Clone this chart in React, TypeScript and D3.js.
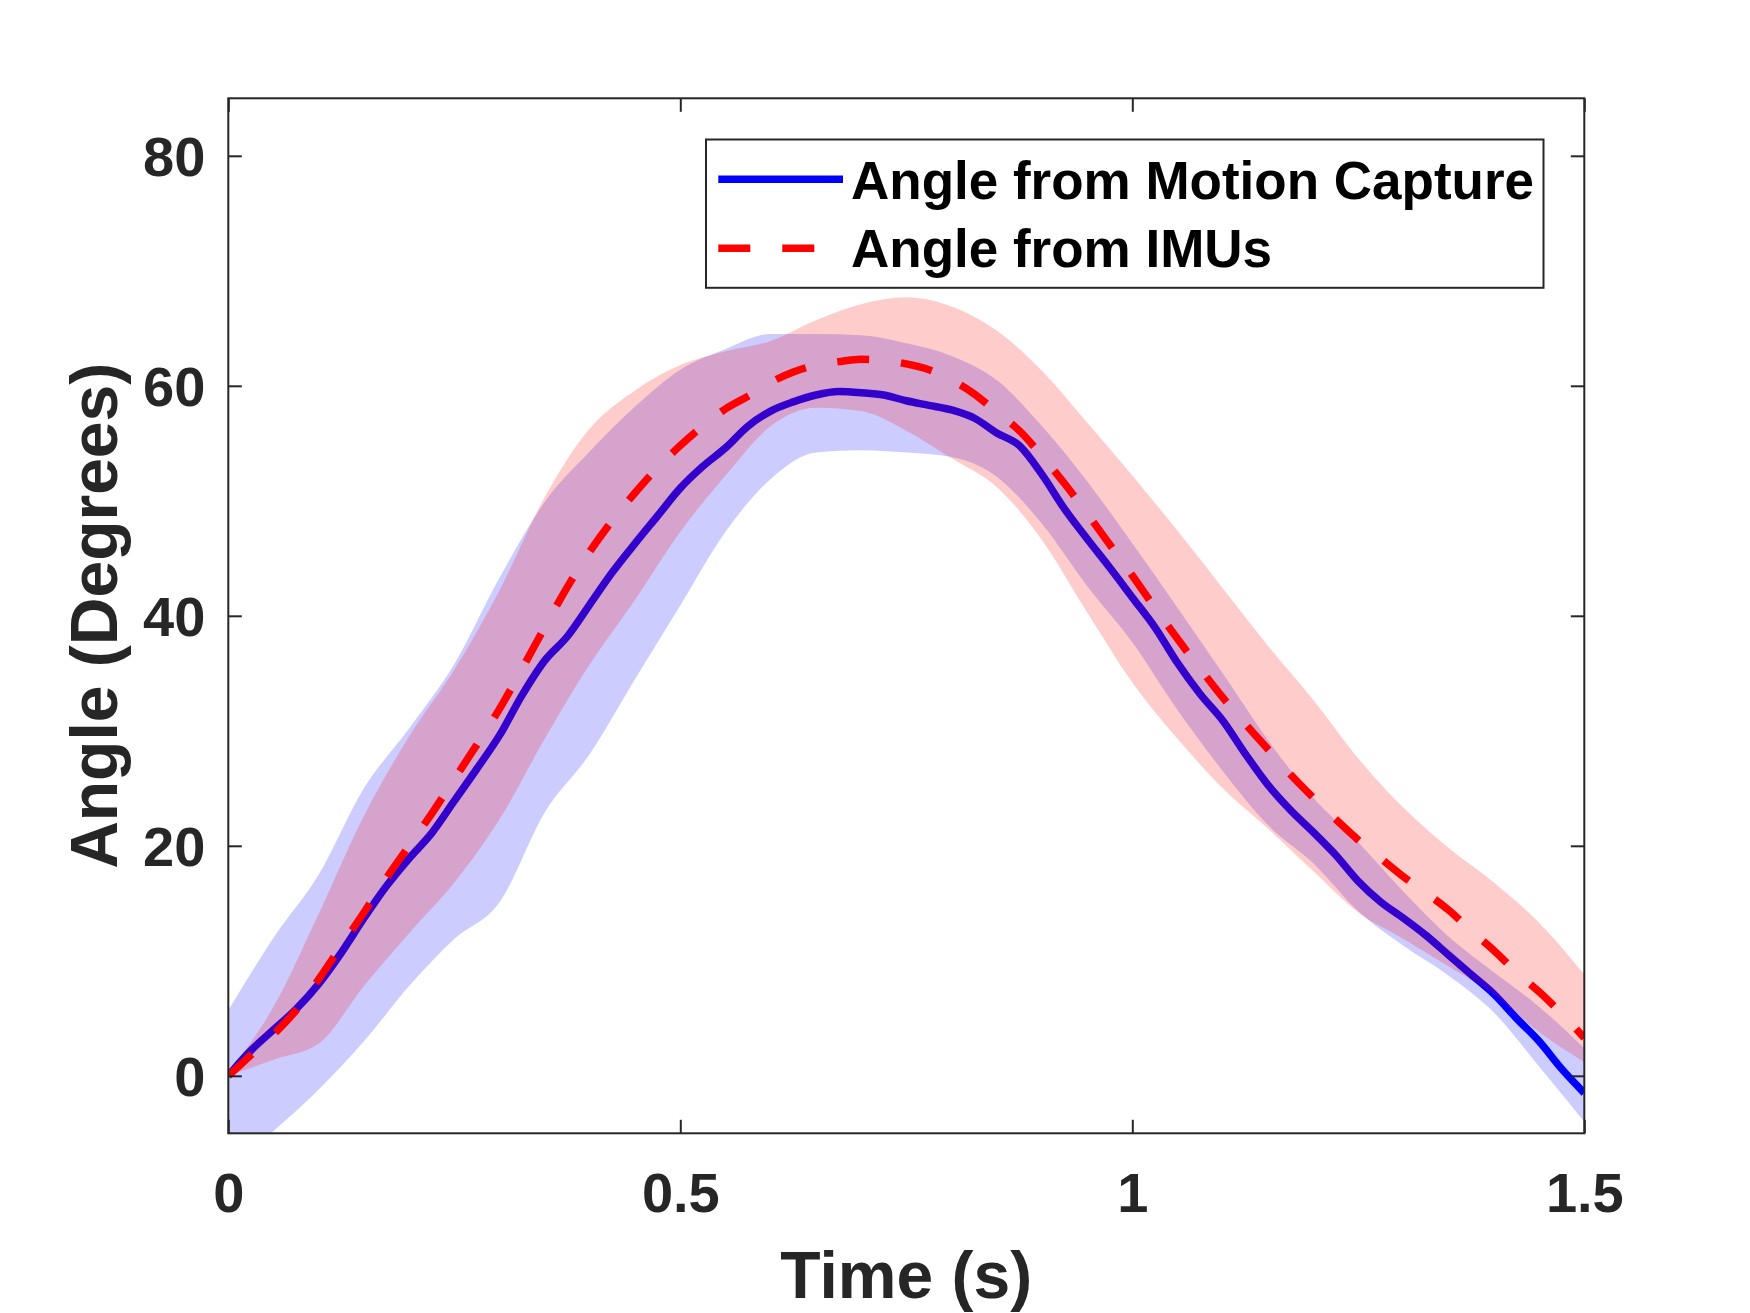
import React, { useRef, useEffect } from "react";
import * as d3 from "d3";

// sample times (s) for the two mean curves
const lineTime = [
  0, 0.025, 0.05, 0.075, 0.1, 0.125, 0.15, 0.175, 0.2, 0.225, 0.25, 0.275, 0.3,
  0.325, 0.35, 0.375, 0.4, 0.425, 0.45, 0.475, 0.5, 0.525, 0.55, 0.575, 0.6,
  0.625, 0.65, 0.675, 0.7, 0.725, 0.75, 0.775, 0.8, 0.825, 0.85, 0.875, 0.9,
  0.925, 0.95, 0.975, 1, 1.025, 1.05, 1.075, 1.1, 1.125, 1.15, 1.175, 1.2,
  1.225, 1.25, 1.275, 1.3, 1.325, 1.35, 1.375, 1.4, 1.425, 1.45, 1.475, 1.5,
];

const mocapMean = [
  0, 2.2, 4.0, 5.8, 8.0, 10.7, 13.7, 16.5, 18.9, 21.1, 23.9, 26.7, 29.6, 33.1,
  36.1, 38.2, 41.0, 43.8, 46.3, 48.7, 51.1, 53.0, 54.6, 56.5, 57.8, 58.6, 59.2,
  59.5, 59.4, 59.2, 58.7, 58.3, 57.9, 57.2, 55.9, 54.8, 52.3, 49.3, 46.7, 44.2,
  41.6, 39.0, 35.9, 33.2, 30.9, 28.0, 25.3, 23.1, 21.2, 19.2, 16.9, 15.1, 13.7,
  12.2, 10.5, 8.8, 7.1, 5.0, 3.0, 0.6, -1.5,
];

const imuMean = [
  0, 1.8, 3.6, 5.7, 8.4, 11.3, 14.2, 17.2, 20.0, 22.8, 25.8, 28.8, 31.9, 35.4,
  39.0, 42.5, 45.6, 48.3, 50.7, 52.9, 54.8, 56.5, 58.0, 59.1, 60.3, 61.2, 61.8,
  62.1, 62.3, 62.2, 61.9, 61.4, 60.5, 59.3, 57.7, 56.1, 53.9, 51.5, 48.9, 46.2,
  43.5, 40.7, 38.0, 35.4, 32.9, 30.6, 28.4, 26.2, 24.2, 22.3, 20.5, 18.9, 17.3,
  15.9, 14.4, 12.6, 10.9, 9.0, 7.3, 5.4, 3.3,
];

// sample times (s) for the +/- SD bands
const bandTime = [
  0, 0.05, 0.1, 0.15, 0.2, 0.25, 0.3, 0.35, 0.4, 0.45, 0.5, 0.55, 0.6, 0.65,
  0.7, 0.75, 0.8, 0.85, 0.9, 0.95, 1, 1.05, 1.1, 1.15, 1.2, 1.25, 1.3, 1.35,
  1.4, 1.45, 1.5,
];

const mocapUpper = [
  5.7, 12.0, 17.5, 25.0, 30.2, 35.8, 43.3, 49.9, 54.3, 58.2, 61.4, 63.2, 64.5,
  64.5, 64.4, 63.7, 62.6, 60.5, 56.5, 51.7, 46.3, 40.7, 35.0, 29.2, 24.2, 20.3,
  16.0, 12.1, 9.0, 6.0, 2.4,
];
const mocapLower = [
  -8, -4.8, -1.2, 3.0, 7.8, 11.9, 15.1, 22.9, 28.0, 34.5, 40.9, 47.3, 51.9,
  54.2, 54.4, 54.2, 53.8, 52.1, 48.0, 42.6, 37.7, 31.8, 26.5, 21.8, 18.5, 14.3,
  11.3, 8.7, 5.5, 0.8, -4.0,
];
const imuUpper = [
  0.3, 6.0, 14.1, 22.6, 29.5, 35.3, 42.2, 50.3, 56.3, 59.6, 61.8, 63.0, 63.9,
  65.7, 67.1, 67.7, 66.9, 64.8, 61.3, 56.8, 52.2, 47.4, 42.4, 37.4, 32.7, 27.6,
  23.3, 19.8, 16.8, 13.3, 8.8,
];
const imuLower = [
  0, 1.4, 2.8, 7.8, 12.4, 16.8, 22.3, 29.3, 35.8, 41.4, 47.3, 52.2, 56.5, 58.1,
  57.8, 56.1, 53.7, 51.2, 46.6, 40.3, 34.2, 29.3, 25.0, 21.5, 17.8, 14.2, 11.9,
  9.5, 7.1, 3.8, 1.2,
];

const xTicks = [0, 0.5, 1, 1.5];
const yTicks = [0, 20, 40, 60, 80];
const legendLabels = ["Angle from Motion Capture", "Angle from IMUs"];

const FONT = "'Liberation Sans', Arial, Helvetica, sans-serif";
const AXIS_COLOR = "#262626";

const App: React.FC = () => {
  const ref = useRef<SVGSVGElement | null>(null);

  useEffect(() => {
    const svg = d3.select(ref.current);
    svg.selectAll("*").remove();

    const width = 1750;
    const height = 1313;
    const left = 228.3;
    const right = 1584.3;
    const top = 98.3;
    const bottom = 1133.3;

    svg.attr("width", width).attr("height", height);
    svg.append("rect").attr("width", width).attr("height", height).attr("fill", "#fff");

    const x = d3.scaleLinear().domain([0, 1.5]).range([left, right]);
    const y = d3.scaleLinear().domain([-5, 85]).range([bottom, top]);

    svg
      .append("defs")
      .append("clipPath")
      .attr("id", "plot-clip")
      .append("rect")
      .attr("x", left)
      .attr("y", top)
      .attr("width", right - left)
      .attr("height", bottom - top);

    const plot = svg.append("g").attr("clip-path", "url(#plot-clip)");

    const band = (upper: number[], lower: number[]) =>
      d3
        .area<number>()
        .x((_, i) => x(bandTime[i]))
        .y0((_, i) => y(lower[i]))
        .y1((_, i) => y(upper[i]))
        .curve(d3.curveMonotoneX)(bandTime);

    const meanLine = (values: number[]) =>
      d3
        .line<number>()
        .x((_, i) => x(lineTime[i]))
        .y((d) => y(d))
        .curve(d3.curveMonotoneX)(values);

    // motion capture band + mean
    plot
      .append("path")
      .attr("d", band(mocapUpper, mocapLower))
      .attr("fill", "#0000ff")
      .attr("fill-opacity", 0.2);

    plot
      .append("path")
      .attr("d", meanLine(mocapMean))
      .attr("fill", "none")
      .attr("stroke", "#0000ff")
      .attr("stroke-width", 7.5)
      .attr("stroke-linejoin", "round");

    // IMU band + mean
    plot
      .append("path")
      .attr("d", band(imuUpper, imuLower))
      .attr("fill", "#ff0000")
      .attr("fill-opacity", 0.2);

    plot
      .append("path")
      .attr("d", meanLine(imuMean))
      .attr("fill", "none")
      .attr("stroke", "#ff0000")
      .attr("stroke-width", 7.5)
      .attr("stroke-dasharray", "32,32");

    // axes box
    svg
      .append("rect")
      .attr("x", left)
      .attr("y", top)
      .attr("width", right - left)
      .attr("height", bottom - top)
      .attr("fill", "none")
      .attr("stroke", AXIS_COLOR)
      .attr("stroke-width", 2);

    const styleAxis = (g: d3.Selection<SVGGElement, unknown, null, undefined>) => {
      g.select(".domain").remove();
      g.selectAll(".tick line").attr("stroke", AXIS_COLOR).attr("stroke-width", 2);
      g.selectAll(".tick text")
        .attr("fill", AXIS_COLOR)
        .attr("font-family", FONT)
        .attr("font-weight", "bold")
        .attr("font-size", 56);
    };

    svg
      .append("g")
      .attr("transform", `translate(0,${bottom})`)
      .call(
        d3
          .axisBottom(x)
          .tickValues(xTicks)
          .tickSize(-13.5)
          .tickPadding(39)
          .tickFormat((d) => String(d))
      )
      .call(styleAxis);

    svg
      .append("g")
      .attr("transform", `translate(${left},0)`)
      .call(
        d3
          .axisLeft(y)
          .tickValues(yTicks)
          .tickSize(-13.5)
          .tickPadding(23)
          .tickFormat((d) => String(d))
      )
      .call(styleAxis)
      .selectAll(".tick text")
      .attr("dy", "0.36em");

    svg
      .append("g")
      .attr("transform", `translate(0,${top})`)
      .call(d3.axisTop(x).tickValues(xTicks).tickSize(-13.5).tickFormat(() => ""))
      .call(styleAxis);

    svg
      .append("g")
      .attr("transform", `translate(${right},0)`)
      .call(d3.axisRight(y).tickValues(yTicks).tickSize(-13.5).tickFormat(() => ""))
      .call(styleAxis);

    // axis labels
    svg
      .append("text")
      .attr("x", (left + right) / 2)
      .attr("y", 1298)
      .attr("text-anchor", "middle")
      .attr("font-family", FONT)
      .attr("font-weight", "bold")
      .attr("font-size", 66)
      .attr("fill", AXIS_COLOR)
      .text("Time (s)");

    svg
      .append("text")
      .attr("transform", `translate(117,${(top + bottom) / 2}) rotate(-90)`)
      .attr("text-anchor", "middle")
      .attr("font-family", FONT)
      .attr("font-weight", "bold")
      .attr("font-size", 66)
      .attr("fill", AXIS_COLOR)
      .text("Angle (Degrees)");

    // legend
    const legend = svg.append("g");
    legend
      .append("rect")
      .attr("x", 706)
      .attr("y", 139.5)
      .attr("width", 837.5)
      .attr("height", 148.3)
      .attr("fill", "#fff")
      .attr("stroke", AXIS_COLOR)
      .attr("stroke-width", 2);

    const rows = [
      { label: legendLabels[0], color: "#0000ff", dash: null, yLine: 179.3, yText: 199 },
      { label: legendLabels[1], color: "#ff0000", dash: "32,32", yLine: 248.3, yText: 267 },
    ];

    rows.forEach((r) => {
      legend
        .append("line")
        .attr("x1", 718.3)
        .attr("x2", 843)
        .attr("y1", r.yLine)
        .attr("y2", r.yLine)
        .attr("stroke", r.color)
        .attr("stroke-width", 7.5)
        .attr("stroke-dasharray", r.dash);
      legend
        .append("text")
        .attr("x", 851)
        .attr("y", r.yText)
        .attr("font-family", FONT)
        .attr("font-weight", "bold")
        .attr("font-size", 53)
        .attr("fill", "#000")
        .text(r.label);
    });
  }, []);

  return (
    <svg
      ref={ref}
      width={1750}
      height={1313}
      style={{ position: "absolute", left: 0, top: 0, display: "block" }}
    />
  );
};

export default App;
